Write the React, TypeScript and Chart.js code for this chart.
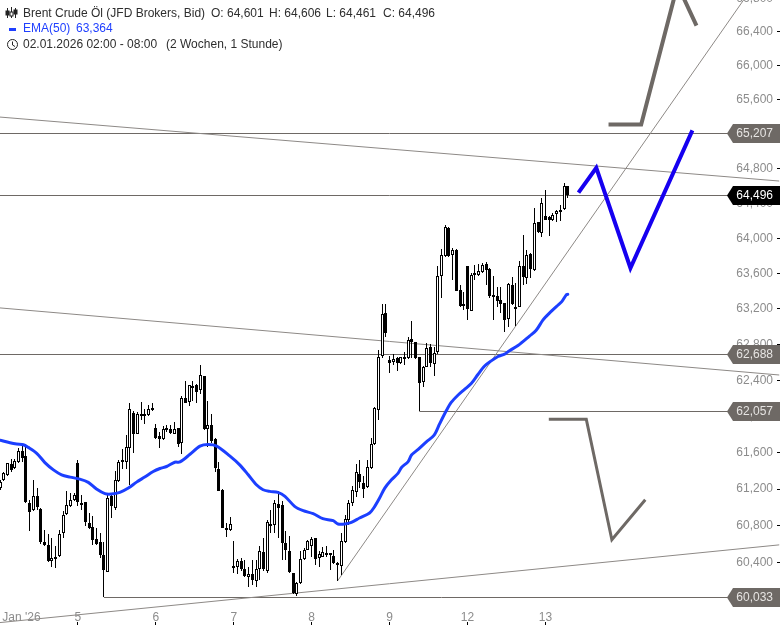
import React, { useEffect, useRef } from "react";
import { Chart, registerables } from "chart.js";

Chart.register(...registerables);

const opens = [61216,61295,61357,61477,61430,61502,61618,61564,61049,60969,61122,60988,60625,60596,60426,60440,60477,60723,60930,61013,61078,61491,61049,61060,60832,60788,60658,60625,60488,60306,61129,60995,61285,61520,61502,61647,62038,61810,62027,62027,62016,62093,61875,61781,61745,61875,61864,61810,61875,61701,62208,62154,62339,62346,62288,62444,61864,61901,61745,61419,61194,60777,60759,60368,60361,60426,60332,60252,60281,60209,60332,60513,60317,60824,60806,61042,61031,60614,60527,60288,60064,60180,60440,60542,60578,60669,60451,60469,60506,60506,60480,60404,60372,60622,60861,61049,61165,61364,61267,61219,61433,61690,62074,62674,63149,62628,62609,62647,62598,62663,62644,62864,62830,62655,62383,62552,62769,62587,62712,63567,63803,64118,63806,63871,63415,63252,63681,63179,63605,63586,63613,63708,63654,63358,63347,63301,63263,63081,63472,63225,63225,63689,63548,63825,63635,64186,64061,64251,64243,64213,64274,64297,64335,64601];
const highs = [61303,61393,61491,61527,61527,61647,61683,61658,61085,61303,61212,60995,60759,60716,60669,60578,60759,60966,61176,61158,61158,61520,61140,61060,60940,60904,60777,60723,60622,61158,61158,61404,61520,61636,61792,62147,62064,62045,62154,62082,62129,62147,61919,61828,61890,61901,61901,61937,61875,62227,62397,62353,62397,62361,62571,62444,62165,62027,61756,61502,61201,60832,60897,60632,60440,60448,60433,60361,60433,60433,60578,60669,60868,60977,61078,61176,61067,60741,60694,60288,60200,60524,60560,60651,60680,60669,60524,60571,60578,60506,60535,60415,60723,60922,61085,61230,61477,61520,61339,61520,61759,62107,62742,63255,63255,62674,62693,62655,62663,62720,62883,63062,62830,62663,62560,62815,62807,62769,63689,63879,64156,64129,63890,63879,63472,63396,63689,63605,63700,63711,63719,63727,63662,63567,63445,63445,63271,63491,63556,63491,63738,64042,63871,63833,64346,64186,64468,64555,64251,64289,64327,64384,64631,64606];
const lows = [61194,61285,61346,61393,61419,61491,61502,61050,60741,60959,60977,60607,60585,60415,60353,60343,60462,60669,60922,61006,61071,61020,60977,60803,60767,60596,60596,60451,60033,60306,60882,60977,61274,61426,61419,61248,61600,61803,61955,61919,62009,62064,61745,61647,61737,61828,61810,61803,61658,61585,62143,62118,62172,62143,62252,61846,61658,61709,61393,61176,60777,60680,60741,60296,60281,60317,60245,60143,60161,60143,60216,60317,60288,60723,60723,60669,60433,60433,60288,60071,60050,60172,60433,60535,60469,60379,60361,60462,60462,60325,60390,60209,60270,60614,60814,61013,61114,61212,61103,61212,61420,61680,61965,62650,62882,62484,62571,62503,62587,62571,62636,62644,62636,62057,62325,62548,62548,62446,62690,63320,63787,63787,63529,63407,63225,63187,63073,63179,63529,63575,63605,63472,63320,63073,63225,63149,62940,62997,63244,63005,63217,63472,63483,63548,63624,64061,64015,64213,64023,64194,64186,64194,64327,64461];
const closes = [61281,61375,61484,61411,61509,61618,61538,61056,60948,61129,61002,60622,60596,60426,60451,60469,60716,60922,61027,61085,61140,61056,61042,60839,60777,60651,60607,60488,60325,61103,61013,61303,61495,61502,61658,62082,61803,62027,62016,62009,62082,62078,61763,61745,61864,61864,61817,61864,61690,62201,62147,62346,62328,62274,62462,61864,61908,61730,61430,61183,60777,60752,60824,60361,60422,60332,60259,60277,60216,60332,60531,60332,60843,60795,61049,60995,60614,60535,60299,60078,60180,60440,60542,60632,60661,60440,60495,60517,60495,60498,60397,60390,60632,60875,61049,61187,61386,61274,61205,61440,61694,62092,62662,63138,62924,62598,62636,62598,62655,62644,62853,62826,62647,62372,62552,62761,62598,62704,63567,63806,64129,63795,63871,63407,63233,63236,63195,63582,63586,63624,63700,63643,63347,63350,63293,63255,63073,63480,63252,63217,63689,63559,63810,63651,64175,64069,64403,64213,64205,64270,64312,64327,64605,64496];

const emaIdx = [0,2.7,4.5,6.3,7.6,9.9,12.1,14.4,16.6,18.9,21.5,23.8,26,28.3,30,32.3,34.6,36.8,39,41.3,43.1,44.9,47.1,48.5,51.2,53.9,56.1,58.4,61.9,64.6,66.9,69.1,70.9,72.7,74.9,76.8,79.4,81.7,84.4,87,89.8,91.1,92.9,94.7,96.9,99.6,101,102.3,103.7,105.5,107.3,108.2,110,110.9,112.7,114.9,117,118.5,120.3,121.6,123.4,125.2,127,128.8,130.6,132.4,134.2,136,137.3,139.6,142.7,144.5,146.3,148,150.4,151.4,152.6,153];
const emaVals = [61737,61708,61694,61687,61658,61593,61491,61411,61357,61332,61310,61274,61201,61151,61147,61165,61212,61277,61332,61393,61426,61448,61495,61498,61582,61672,61690,61672,61564,61466,61357,61248,61194,61176,61165,61122,61013,60966,60933,60879,60857,60821,60821,60839,60886,60940,61013,61103,61212,61303,61375,61437,61502,61574,61636,61719,61792,61919,62064,62154,62234,62299,62364,62465,62560,62617,62666,62693,62731,62788,62894,62959,63073,63149,63244,63282,63358,63364];

const levelValues = [65207, 64496, 62688, 62057, 60033];
const levelStarts = [0, 0, 0, 113, 28];

const trendX = [[0, 210], [0, 210], [0, 210], [91, 210]];
const trendY = [[65400, 64658], [63211, 62459], [59761, 60595], [60208, 67390]];

const blueX = [155.9, 160.7, 169.9, 186.6];
const blueY = [64525, 64811, 63663, 65245];
const upperGreyX = [164, 172.8, 182.6, 187.7];
const upperGreyY = [65312, 65312, 66960, 66475];
const lowerGreyX = [147.9, 158, 164.9, 173.9];
const lowerGreyY = [61969, 61969, 60650, 61085];

const yTicks = [60000,60400,60800,61200,61600,62000,62400,62800,63200,63600,64000,64400,64800,65200,65600,66000,66400,66800];
const xTickIdx = [5.8, 21, 42, 63, 84, 105, 126, 147];
const xTickLabels = ["Jan '26", "5", "6", "7", "8", "9", "12", "13"];

const FONT = "'Liberation Sans', Arial, sans-serif";
const fmt = (v: number) => Math.floor(v / 1000) + "," + String(Math.round(v) % 1000).padStart(3, "0");
const pts = (xs: number[], ys: number[]) => xs.map((x, i) => ({ x, y: ys[i] }));
const allIdx = opens.map((_, i) => i);

const snapPlugin = {
  id: "snap",
  afterDatasetsUpdate(chart: any) {
    chart.getSortedVisibleDatasetMetas().forEach((m: any) => {
      if (m.type === "line" && (chart.data.datasets[m.index] as any).level) {
        m.data.forEach((el: any) => { el.y = Math.floor(el.y) + 0.5; });
      }
      if (m.type !== "bar") return;
      m.data.forEach((el: any) => {
        el.x = Math.floor(el.x) + 0.5;
        const t = Math.round(Math.min(el.y, el.base));
        let b = Math.round(Math.max(el.y, el.base));
        if (b - t < 2) b = t + 2;
        el.y = t;
        el.base = b;
      });
    });
  },
};

const overlayPlugin = {
  id: "overlay",
  afterDraw(chart: any) {
    const c = chart.ctx;
    const yS = chart.scales.y;
    c.save();
    c.font = "12px " + FONT;
    c.textBaseline = "middle";
    // price tags
    levelValues.forEach((v, i) => {
      const y = Math.floor(yS.getPixelForValue(v)) + 0.5;
      const dark = i === 1;
      c.fillStyle = dark ? "#000" : "#6e6965";
      c.beginPath();
      c.moveTo(727, y);
      c.lineTo(733, y - 9.5);
      c.lineTo(780, y - 9.5);
      c.lineTo(780, y + 9.5);
      c.lineTo(733, y + 9.5);
      c.closePath();
      c.fill();
      c.fillStyle = dark ? "#fff" : "#e6e4e2";
      c.textAlign = "right";
      c.fillText(fmt(v), 773, y);
    });
    // legend text
    c.textAlign = "left";
    c.fillStyle = "#2e2e2e";
    c.fillText("Brent Crude Öl (JFD Brokers, Bid)", 23, 13.5);
    c.fillText("O: " + fmt(opens[opens.length - 1]), 211, 13.5);
    c.fillText("H: " + fmt(highs[highs.length - 1]), 269, 13.5);
    c.fillText("L: " + fmt(lows[lows.length - 1]), 326, 13.5);
    c.fillText("C: " + fmt(closes[closes.length - 1]), 383, 13.5);
    c.fillStyle = "#1f3fff";
    c.fillText("EMA(50)", 23, 29);
    c.fillText(fmt(emaVals[emaVals.length - 1]), 76, 29);
    c.fillStyle = "#2e2e2e";
    c.fillText("02.01.2026 02:00 - 08:00", 23, 45);
    c.fillText("(2 Wochen, 1 Stunde)", 166, 45);
    // legend icons
    c.fillStyle = "#1f3fff";
    c.fillRect(9, 28, 7, 3);
    c.strokeStyle = "#222";
    c.lineWidth = 1;
    c.beginPath();
    c.arc(12.5, 44.5, 5, 0, Math.PI * 2);
    c.moveTo(12.5, 41.5);
    c.lineTo(12.5, 45);
    c.lineTo(15, 46.5);
    c.stroke();
    [[7.5, 8, 18, 11, 15], [11.5, 7, 18, 12, 16], [15.5, 8, 18, 10, 14]].forEach(([x, a, b, t, m], i) => {
      c.beginPath();
      c.moveTo(x, a);
      c.lineTo(x, b);
      c.stroke();
      c.fillStyle = i === 1 ? "#fff" : "#222";
      c.fillRect(x - 1.5, t, 3, m - t);
      c.strokeRect(x - 1.5, t, 3, m - t);
    });
    c.restore();
  },
};

const lineClip = { left: 0, top: 0, right: 3, bottom: 3 };

function lineDs(data: any[], color: string, width: number, order: number, cap: CanvasLineCap = "butt", extra: any = {}) {
  return {
    type: "line" as const,
    data,
    borderColor: color,
    backgroundColor: color,
    borderWidth: width,
    borderCapStyle: cap,
    borderJoinStyle: "miter" as const,
    pointRadius: 0,
    tension: 0,
    fill: false,
    order,
    clip: lineClip,
    ...extra,
  };
}

export default function App() {
  const ref = useRef<HTMLCanvasElement>(null);
  useEffect(() => {
    const isUp = (i: number) => closes[i] >= opens[i];
    const bar = (idx: number[], lo: number[], hi: number[], fill: string, thick: number, border: number, order: number) => ({
      type: "bar" as const,
      data: idx.map((i) => ({ x: i, y: [lo[i], hi[i]] })),
      backgroundColor: fill,
      borderColor: "#000",
      borderWidth: border,
      borderSkipped: false,
      barThickness: thick,
      grouped: false,
      inflateAmount: 0,
      order,
    });
    const bodyLo = allIdx.map((i) => Math.min(opens[i], closes[i]));
    const bodyHi = allIdx.map((i) => Math.max(opens[i], closes[i]));
    const chart = new Chart(ref.current as HTMLCanvasElement, {
      type: "bar",
      data: {
        datasets: [
          ...levelValues.map((v, i) => lineDs(pts([levelStarts[i], 210], [v, v]), "#6e6965", 1, 9, "butt", { level: true })),
          ...trendX.map((xs, i) => lineDs(pts(xs, trendY[i]), "#8d8986", 1, 8)),
          bar(allIdx, lows, highs, "#000", 1, 0, 7),
          bar(allIdx.filter(isUp), bodyLo, bodyHi, "#fff", 3, 1, 6),
          bar(allIdx.filter((i) => !isUp(i)), bodyLo, bodyHi, "#000", 3, 0, 5),
          lineDs(pts(emaIdx, emaVals), "#1c3fff", 3, 4, "round", { tension: 0.3, borderJoinStyle: "round" }),
          lineDs(pts(blueX, blueY), "#1600f0", 4, 3),
          lineDs(pts(upperGreyX, upperGreyY), "#6e6965", 4, 2),
          lineDs(pts(lowerGreyX, lowerGreyY), "#6e6965", 3, 2),
        ] as any,
      },
      options: {
        responsive: false,
        animation: false,
        parsing: { xAxisKey: "x", yAxisKey: "y" } as any,
        layout: { padding: 0, autoPadding: false },
        events: [],
        plugins: { legend: { display: false }, title: { display: false }, tooltip: { enabled: false } },
        scales: {
          x: {
            type: "linear",
            position: "bottom",
            min: 0,
            max: 209.4,
            offset: false,
            afterFit(s: any) { s.height = 3; s.paddingLeft = 0; s.paddingRight = 0; },
            afterBuildTicks(s: any) { s.ticks = xTickIdx.map((value) => ({ value })); },
            grid: {
              offset: false,
              drawOnChartArea: false,
              drawTicks: true,
              tickLength: 3,
              color: (ctx: any) => (ctx.index === 0 ? "rgba(0,0,0,0)" : "#000"),
            },
            border: { display: false },
            ticks: {
              mirror: true,
              autoSkip: false,
              maxRotation: 0,
              minRotation: 0,
              padding: -3,
              color: "#8c8c8c",
              font: { family: FONT, size: 12 },
              callback: (v: any) => xTickLabels[xTickIdx.indexOf(Number(v))] ?? "",
            },
          },
          y: {
            type: "logarithmic",
            position: "right",
            min: 59767,
            max: 66780,
            afterFit(s: any) { s.width = 3; s.paddingTop = 0; s.paddingBottom = 0; },
            afterBuildTicks(s: any) { s.ticks = yTicks.map((value) => ({ value })); },
            grid: { drawOnChartArea: false, drawTicks: true, tickLength: 3, color: "#000" },
            border: { display: false },
            ticks: {
              mirror: true,
              autoSkip: false,
              padding: -4,
              color: "#8c8c8c",
              font: { family: FONT, size: 12 },
              callback: (v: any) => fmt(Number(v)),
            },
          },
        },
      } as any,
      plugins: [snapPlugin, overlayPlugin] as any,
    });
    return () => chart.destroy();
  }, []);
  return (
    <div style={{ position: "absolute", left: 0, top: 0, width: 780, height: 625, background: "#fff" }}>
      <canvas ref={ref} width={780} height={625} style={{ display: "block", width: 780, height: 625 }} />
    </div>
  );
}
